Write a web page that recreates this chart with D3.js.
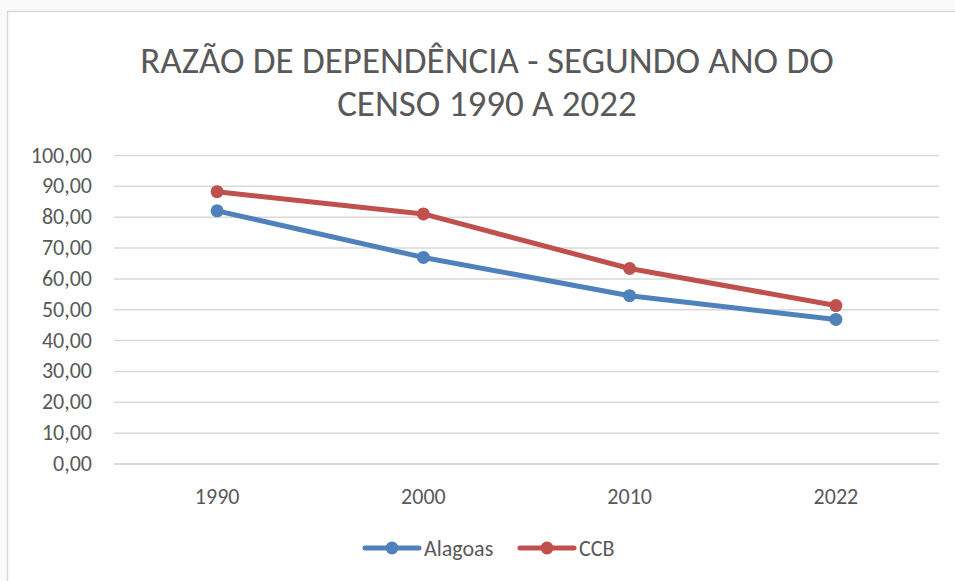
<!DOCTYPE html>
<html lang="pt">
<head>
    <meta charset="UTF-8">
    <title>Razão de dependência</title>
    <script src="https://cdn.jsdelivr.net/npm/d3@7"></script>
    <style>
        body {
            margin: 0;
            background-color: #f7f9fb;
            font-family: Carlito, Calibri, Lato, sans-serif;
        }
        .frame {
            fill: #ffffff;
            stroke: #d9d9d9;
            stroke-width: 1.5;
        }
        .grid line {
            stroke: #d9d9d9;
            stroke-width: 1.5;
        }
        .tick text {
            fill: #595959;
        }
    </style>
</head>
<body>
    <svg id="chart" width="955" height="581"></svg>

    <script>
        // dados
        let anos = ["1990", "2000", "2010", "2022"]
        let alagoas = [81.9, 66.8, 54.4, 46.7]
        let ccb = [88.1, 80.9, 63.2, 51.2]
        let series = ["Alagoas", "CCB"]
        let cores = ["#4f81bd", "#c0504d"]
        let yTicks = [0, 10, 20, 30, 40, 50, 60, 70, 80, 90, 100]
        let titulo = ["RAZÃO DE DEPENDÊNCIA - SEGUNDO ANO DO", "CENSO 1990 A 2022"]

        let svg = d3.select("#chart")

        // moldura do gráfico
        svg.append("rect")
            .attr("class", "frame")
            .attr("x", 7.5)
            .attr("y", 11.5)
            .attr("width", 1000)
            .attr("height", 600)

        // título
        svg.append("g")
            .selectAll("text")
            .data(titulo)
            .enter()
            .append("text")
            .attr("x", 487)
            .attr("y", (d, i) => 73 + i * 43)
            .attr("text-anchor", "middle")
            .attr("fill", "#595959")
            .style("font-size", "37px")
            .text(d => d)

        let x = d3.scaleBand()
            .domain(anos)
            .range([114, 939])

        let y = d3.scaleLinear()
            .domain([0, 100])
            .range([463.5, 155])

        // linhas de grade
        svg.append("g")
            .attr("class", "grid")
            .attr("transform", "translate(939,0)")
            .call(d3.axisLeft(y).tickValues(yTicks).tickSize(825).tickFormat(""))
            .call(g => g.select(".domain").remove())

        // eixo y (rótulos)
        svg.append("g")
            .attr("transform", "translate(100,0)")
            .call(d3.axisLeft(y).tickValues(yTicks).tickSize(0)
                .tickFormat(d => d3.format(".2f")(d).replace(".", ",")))
            .call(g => g.select(".domain").remove())
            .selectAll("text")
            .attr("x", -8)
            .style("font-size", "22px")
            .style("font-family", "Carlito, Calibri, Lato, sans-serif")

        // eixo x
        svg.append("g")
            .attr("transform", "translate(0,463.5)")
            .call(d3.axisBottom(x).tickSize(0))
            .call(g => g.select(".domain").attr("stroke", "#d9d9d9").attr("stroke-width", 1.5))
            .selectAll("text")
            .attr("y", 25)
            .style("font-size", "22px")
            .style("font-family", "Carlito, Calibri, Lato, sans-serif")

        let dados = [alagoas, ccb]
        let line = d3.line()
            .x((d, i) => x(anos[i]) + x.bandwidth() / 2)
            .y(d => y(d))

        dados.forEach(function (vals, k) {
            svg.append("path")
                .datum(vals)
                .attr("fill", "none")
                .attr("stroke", cores[k])
                .attr("stroke-width", 5)
                .attr("stroke-linejoin", "round")
                .attr("d", line)

            svg.append("g")
                .selectAll("circle")
                .data(vals)
                .enter()
                .append("circle")
                .attr("cx", (d, i) => x(anos[i]) + x.bandwidth() / 2)
                .attr("cy", d => y(d))
                .attr("r", 6.5)
                .attr("fill", cores[k])
        })

        // legenda
        let legX = [365, 520]
        let leg = svg.append("g")
            .selectAll("g")
            .data(series)
            .enter()
            .append("g")
            .attr("transform", (d, i) => "translate(" + legX[i] + ",548)")

        leg.append("line")
            .attr("x1", 0).attr("x2", 54)
            .attr("stroke", (d, i) => cores[i])
            .attr("stroke-width", 5)
            .attr("stroke-linecap", "round")
        leg.append("circle")
            .attr("cx", 27)
            .attr("r", 6.5)
            .attr("fill", (d, i) => cores[i])
        leg.append("text")
            .attr("x", 59)
            .attr("y", 8)
            .attr("fill", "#595959")
            .style("font-size", "22px")
            .text(d => d)
    </script>
</body>
</html>
